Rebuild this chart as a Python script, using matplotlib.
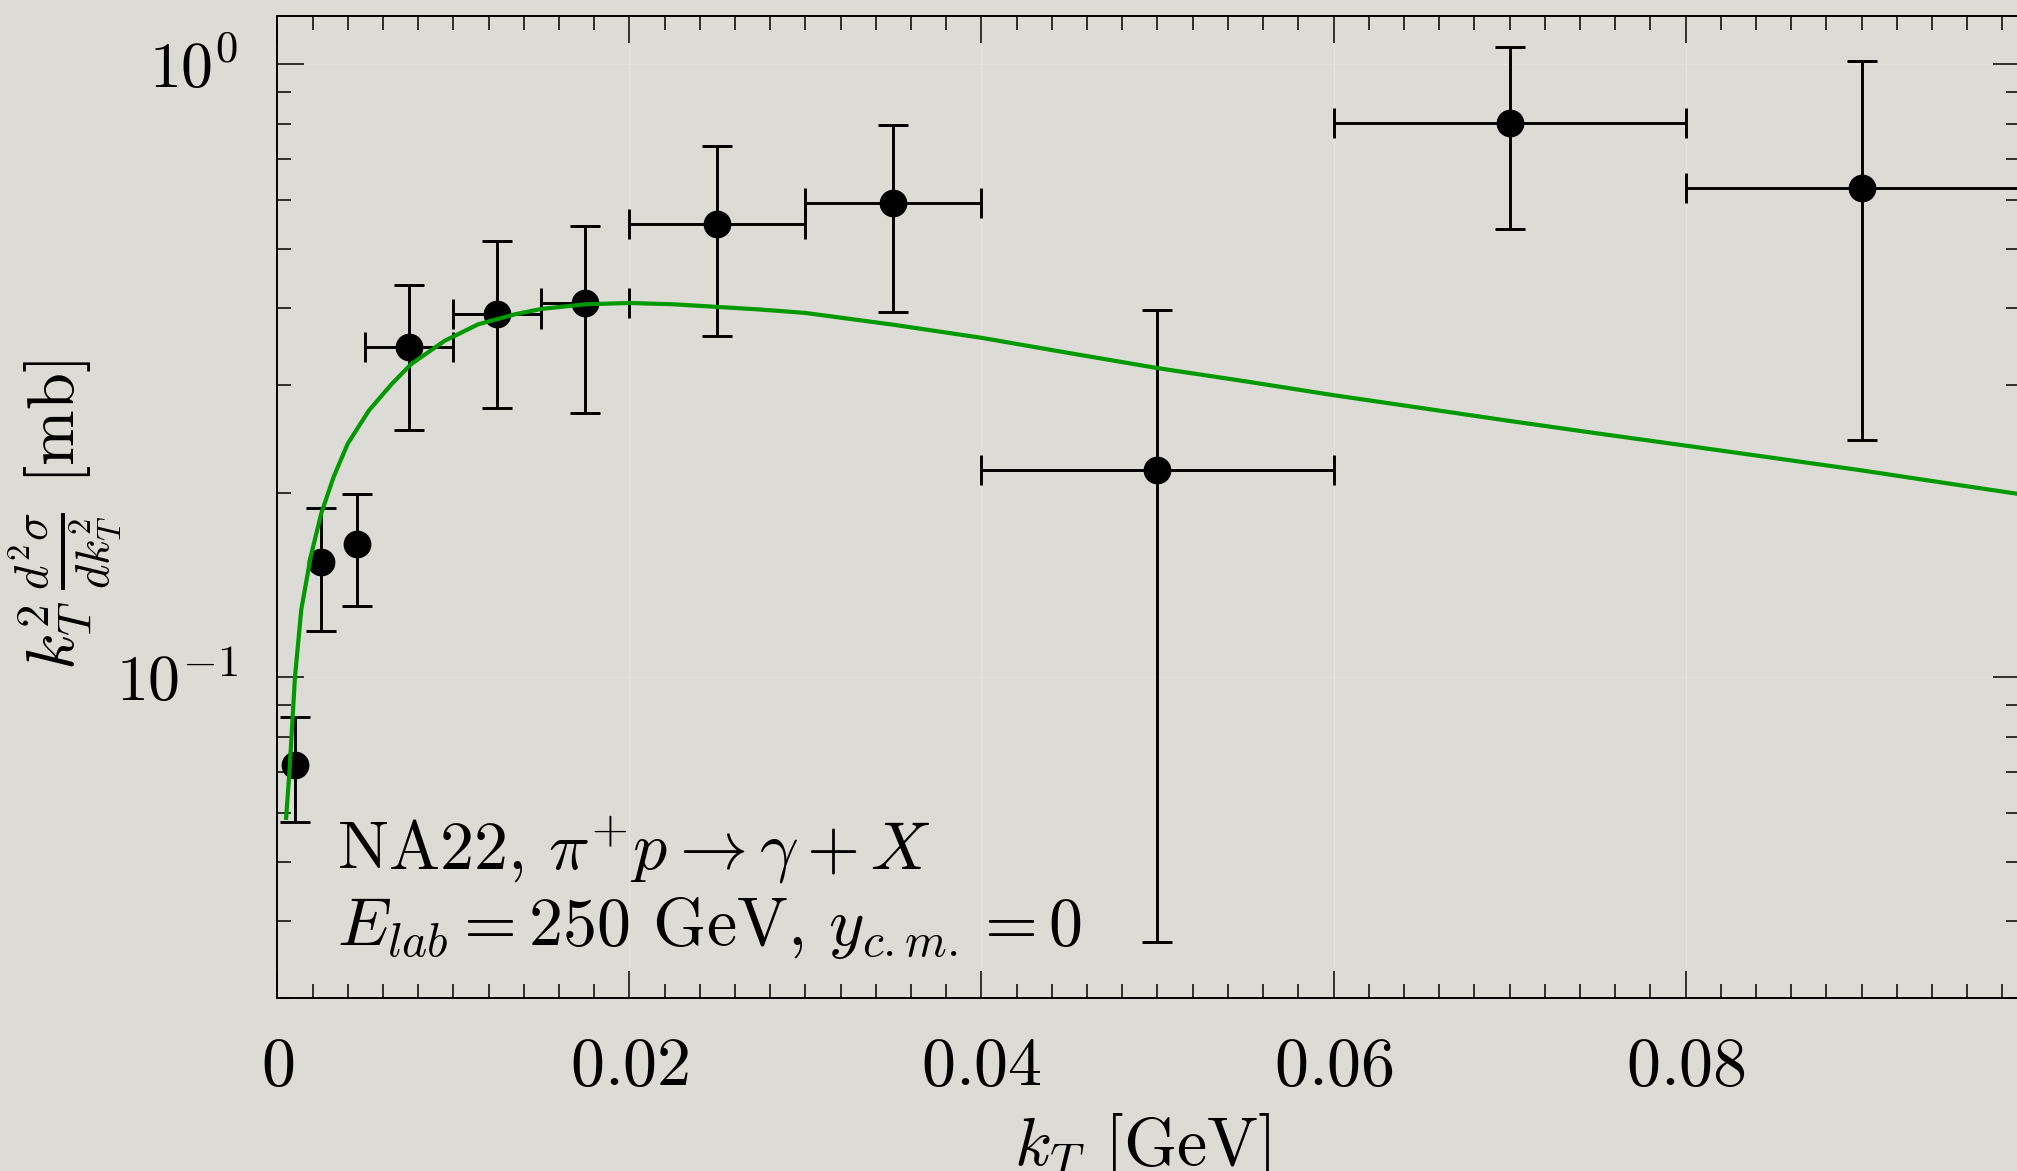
import matplotlib.pyplot as plt
import numpy as np
from matplotlib.ticker import FixedLocator, FixedFormatter, MultipleLocator, LogLocator, NullFormatter

plt.rcParams['font.family'] = 'serif'
plt.rcParams['font.serif'] = ['cmr10']
plt.rcParams['mathtext.fontset'] = 'cm'

# NA22 data, bins with a kT range
kt_bin = [0.0075, 0.0125, 0.0175, 0.025, 0.035, 0.05, 0.07, 0.09]
kt_lo = [0.005, 0.01, 0.015, 0.02, 0.03, 0.04, 0.06, 0.08]
kt_hi = [0.01, 0.015, 0.02, 0.03, 0.04, 0.06, 0.08, 0.10]
val_bin = [0.346, 0.392, 0.408, 0.549, 0.595, 0.218, 0.801, 0.629]
up_bin = [0.437, 0.515, 0.544, 0.736, 0.795, 0.398, 1.065, 1.012]
dn_bin = [0.253, 0.275, 0.270, 0.360, 0.395, 0.037, 0.539, 0.244]

# lowest kT points, no horizontal bar
kt_pt = [0.001, 0.0025, 0.0045]
val_pt = [0.0721, 0.154, 0.165]
up_pt = [0.0862, 0.189, 0.199]
dn_pt = [0.058, 0.119, 0.131]

# model curve
kt_curve = [0.0005, 0.0007, 0.001, 0.00136, 0.0019, 0.0025, 0.0032, 0.004,
            0.0052, 0.0065, 0.0076, 0.0095, 0.0114, 0.0135, 0.015, 0.0175,
            0.02, 0.0225, 0.025, 0.0275, 0.03, 0.035, 0.04, 0.045, 0.05,
            0.055, 0.06, 0.065, 0.07, 0.075, 0.08, 0.085, 0.09, 0.095, 0.099]
val_curve = [0.059, 0.0711, 0.100, 0.129, 0.1576, 0.1853, 0.2124, 0.2406,
             0.2724, 0.301, 0.3243, 0.3539, 0.3765, 0.391, 0.399, 0.406,
             0.408, 0.406, 0.402, 0.398, 0.393, 0.376, 0.358, 0.338, 0.3195,
             0.304, 0.2886, 0.275, 0.262, 0.250, 0.2388, 0.228, 0.2176,
             0.207, 0.199]

xticks = [0, 0.02, 0.04, 0.06, 0.08]
xtick_labels = ['$0$', '$0.02$', '$0.04$', '$0.06$', '$0.08$']
yticks = [0.1, 1.0]
ytick_labels = ['$10^{-1}$', '$10^{0}$']

bg = '#dddbd5'
fig = plt.figure(figsize=(20.17, 11.71), dpi=100, facecolor=bg)
ax = fig.add_axes([0.1375, 0.1477, 0.864, 0.8389], facecolor=bg)

ax.set_yscale('log')
ax.set_xlim(0, 0.099)
ax.set_ylim(0.03, 1.2)

# faint grid at major ticks
ax.grid(True, which='major', color='#e3e3e1', lw=0.9, zorder=0)

kt_bin = np.array(kt_bin)
val_bin = np.array(val_bin)
xerr = [kt_bin - np.array(kt_lo), np.array(kt_hi) - kt_bin]
yerr = [val_bin - np.array(dn_bin), np.array(up_bin) - val_bin]
ax.errorbar(kt_bin, val_bin, xerr=xerr, yerr=yerr, fmt='o', color='black',
            ms=19, lw=2.1, capsize=10.5, capthick=2.1, zorder=3)

val_pt = np.array(val_pt)
yerr_pt = [val_pt - np.array(dn_pt), np.array(up_pt) - val_pt]
ax.errorbar(kt_pt, val_pt, yerr=yerr_pt, fmt='o', color='black',
            ms=19, lw=2.1, capsize=10.5, capthick=2.1, zorder=3)

ax.plot(kt_curve, val_curve, color='#009900', lw=3.0, zorder=4)

ax.xaxis.set_major_locator(FixedLocator(xticks))
ax.xaxis.set_major_formatter(FixedFormatter(xtick_labels))
ax.xaxis.set_minor_locator(MultipleLocator(0.002))
ax.yaxis.set_major_locator(FixedLocator(yticks))
ax.yaxis.set_major_formatter(FixedFormatter(ytick_labels))
ax.yaxis.set_minor_locator(LogLocator(base=10, subs=np.arange(2, 10)))
ax.yaxis.set_minor_formatter(NullFormatter())

ax.tick_params(which='both', direction='in', top=True, right=True, width=1.1,
               color='black')
ax.tick_params(which='major', length=19.5)
ax.tick_params(which='minor', length=10)
ax.tick_params(axis='x', which='major', pad=28, labelsize=49)
ax.tick_params(axis='y', which='major', pad=28, labelsize=46)
for s in ax.spines.values():
    s.set_linewidth(1.4)

ax.text(0.0034, 0.0487, r'NA22, $\pi^{+}p\rightarrow\gamma+X$',
        fontsize=49, va='baseline', ha='left')
ax.text(0.0034, 0.0366, r'$E_{lab}=250$ GeV, $y_{c.m.}=0$',
        fontsize=49, va='baseline', ha='left')

fig.text(1142 / 2017, 6 / 1171, r'$k_T$ [GeV]', fontsize=49,
         ha='center', va='baseline')
fig.text(66 / 2017, 1 - 515 / 1171,
         r'$k_T^2\,\frac{d^2\sigma}{dk_T^2}$ [mb]', fontsize=48,
         ha='center', va='center', rotation=90)

fig.savefig('out.png', dpi=100, facecolor=bg)
